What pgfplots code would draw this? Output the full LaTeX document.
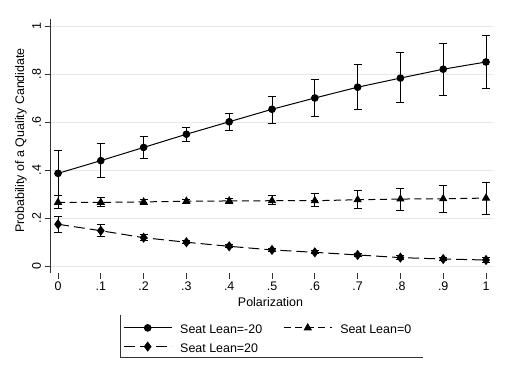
\documentclass[border=0pt]{standalone}
\usepackage{fontspec}
\setmainfont{Liberation Sans}
\usepackage{pgfplots}
\usepackage{pgfplotstable}
\pgfplotsset{compat=1.18}

% Predicted probability by polarization, with 95% intervals (x, y, lo, hi)
\pgfplotstableread{
x   y     lo    hi
0   0.386 0.293 0.482
0.1 0.439 0.367 0.510
0.2 0.494 0.447 0.538
0.3 0.549 0.518 0.578
0.4 0.601 0.565 0.636
0.5 0.653 0.594 0.708
0.6 0.700 0.624 0.776
0.7 0.745 0.653 0.838
0.8 0.783 0.680 0.888
0.9 0.820 0.710 0.928
1   0.850 0.738 0.961
}\leanminus

\pgfplotstableread{
x   y     lo    hi
0   0.265 0.238 0.293
0.1 0.265 0.246 0.284
0.2 0.267 0.258 0.276
0.3 0.270 0.262 0.279
0.4 0.271 0.262 0.281
0.5 0.272 0.256 0.293
0.6 0.272 0.246 0.303
0.7 0.276 0.238 0.314
0.8 0.279 0.230 0.324
0.9 0.280 0.222 0.336
1   0.283 0.215 0.349
}\leanzero

\pgfplotstableread{
x   y     lo    hi
0   0.174 0.138 0.208
0.1 0.147 0.122 0.171
0.2 0.118 0.106 0.130
0.3 0.099 0.092 0.106
0.4 0.082 0.076 0.088
0.5 0.067 0.062 0.072
0.6 0.057 0.051 0.063
0.7 0.046 0.039 0.053
0.8 0.035 0.028 0.042
0.9 0.029 0.021 0.037
1   0.025 0.016 0.034
}\leanplus

\newcommand{\fs}{\fontsize{12.5}{15}\selectfont}

\begin{document}
\begin{tikzpicture}
\begin{axis}[
  scale only axis,
  width=443bp, height=254.4bp,
  xmin=-0.0187, xmax=1.0163,
  ymin=-0.03, ymax=1.03,
  axis x line=bottom, axis y line=left,
  axis line style={-, line width=0.8bp, black!80},
  x axis line style={draw=none},
  tick align=outside,
  major tick length=5.5bp,
  tick style={line width=0.7bp, black!80},
  xtick={0,0.1,0.2,0.3,0.4,0.5,0.6,0.7,0.8,0.9,1},
  xticklabels={0,.1,.2,.3,.4,.5,.6,.7,.8,.9,1},
  ytick={0,0.2,0.4,0.6,0.8,1},
  yticklabels={0,.2,.4,.6,.8,1},
  /pgf/number format/assume math mode=true,
  tick label style={font=\fs},
  yticklabel style={rotate=90, anchor=south},
  ymajorgrids,
  major grid style={gray!18, line width=0.8bp},
  xlabel={Polarization},
  ylabel={Probability of a Quality Candidate},
  every axis x label/.style={at={(axis description cs:0.4977,-0.112)}, anchor=center, font=\fs},
  every axis y label/.style={at={(axis description cs:-0.0655,0.5216)}, anchor=center, rotate=90, font=\fs},
  legend columns=2,
  legend cell align=left,
  legend style={draw=none, fill=none, font=\fs,
    at={(axis description cs:0.1648,-0.1989)}, anchor=north west,
    inner sep=0pt, row sep=5.4bp,
    nodes={inner sep=0pt, text height=9bp, text depth=3bp},
    /tikz/every odd column/.append style={column sep=8bp},
    /tikz/every even column/.append style={column sep=21bp}},
  legend image code/.code={%
    \draw[mark repeat=2, mark phase=2] plot coordinates {(0bp,3bp) (24bp,3bp) (48bp,3bp)};},
  error bars/y dir=both,
  error bars/y explicit,
  error bars/error bar style={solid, line width=1bp, black},
  error bars/error mark options={solid, rotate=90, mark size=4bp, line width=1bp, black},
]
\addplot[black, line width=1bp, mark=*, mark size=3.3bp, mark options={solid}]
  table[x=x, y=y, y error plus expr=\thisrow{hi}-\thisrow{y}, y error minus expr=\thisrow{y}-\thisrow{lo}] {\leanminus};
\addlegendentry{Seat Lean=-20}
\addplot[black, line width=1bp, dash pattern=on 7bp off 4.5bp, mark=triangle*, mark size=3.9bp, mark options={solid}]
  table[x=x, y=y, y error plus expr=\thisrow{hi}-\thisrow{y}, y error minus expr=\thisrow{y}-\thisrow{lo}] {\leanzero};
\addlegendentry{Seat Lean=0}
\addplot[black, line width=1bp, dash pattern=on 11bp off 5bp, mark=diamond*, mark size=4.3bp, mark options={solid}]
  table[x=x, y=y, y error plus expr=\thisrow{hi}-\thisrow{y}, y error minus expr=\thisrow{y}-\thisrow{lo}] {\leanplus};
\addlegendentry{Seat Lean=20}
\end{axis}
% legend frame: left and bottom edges
\draw[line width=0.8bp, black!80] (70bp,-41.8bp) -- (70bp,-83.8bp) -- (373bp,-83.8bp);
\pgfresetboundingbox
\path (-50bp,-95.8bp) rectangle (460bp,273.2bp);
\end{tikzpicture}
\end{document}
